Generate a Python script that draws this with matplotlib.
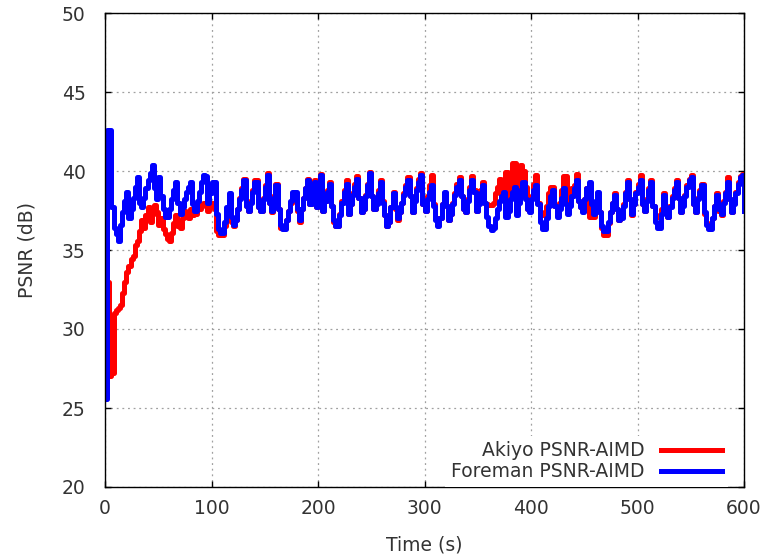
import numpy as np
import matplotlib
matplotlib.use("Agg")
import matplotlib.pyplot as plt

# PSNR traces, one sample every 2 s from 0 to 600 s
time_s = np.arange(0, 601, 2)

akiyo_psnr = [
    37.5, 33.0, 27.0, 27.2, 31.0, 31.2, 31.3, 31.5, 32.3, 33.0,
    33.6, 34.0, 34.4, 34.6, 35.3, 35.6, 36.2, 36.9, 36.4, 37.2,
    37.7, 36.8, 37.3, 37.85, 37.4, 36.6, 37.0, 36.3, 36.0, 35.7,
    35.6, 36.1, 36.7, 37.2, 36.5, 36.4, 37.0, 37.5, 37.3, 37.0,
    37.6, 37.2, 37.3, 37.9, 37.6, 37.9, 38.0, 37.8, 37.5, 37.9,
    38.0, 37.6, 36.2, 35.95, 35.95, 35.95, 36.5, 37.4, 38.3, 36.8,
    36.5, 36.9, 37.6, 38.3, 38.9, 39.5, 37.8, 37.5, 38.1, 38.8,
    39.4, 39.4, 37.7, 37.5, 38.3, 39.1, 39.9, 38.0, 37.4, 38.4,
    39.2, 37.6, 36.4, 36.4, 36.4, 36.9, 37.5, 38.0, 38.6, 38.6,
    37.5, 36.8, 37.6, 38.3, 38.9, 39.5, 37.9, 38.7, 39.4, 37.7,
    38.8, 39.8, 37.5, 38.1, 38.8, 39.3, 37.8, 36.8, 36.5, 36.5,
    37.3, 38.1, 38.8, 39.4, 37.3, 37.9, 38.6, 39.2, 39.7, 38.3,
    37.4, 37.6, 38.5, 39.2, 39.95, 38.4, 37.6, 38.0, 38.8, 39.4,
    38.1, 37.2, 36.5, 36.8, 37.7, 38.7, 37.6, 36.9, 37.4, 38.0,
    38.6, 39.1, 39.6, 38.4, 37.4, 38.2, 38.9, 39.5, 39.85, 37.9,
    37.5, 38.4, 39.1, 39.75, 37.9, 37.0, 36.6, 37.0, 37.9, 38.6,
    37.8, 36.9, 37.3, 38.0, 38.6, 39.2, 39.6, 38.4, 37.6, 37.4,
    38.2, 39.0, 39.7, 38.8, 37.5, 38.0, 38.8, 39.3, 38.0, 37.9,
    37.85, 37.85, 38.0, 38.6, 39.0, 39.5, 38.2, 38.9, 39.95, 38.0,
    38.8, 40.5, 40.5, 38.6, 39.5, 40.4, 40.0, 39.0, 37.6, 37.5,
    38.4, 39.2, 39.75, 38.0, 37.4, 37.2, 37.2, 37.8, 38.6, 39.0,
    39.0, 37.8, 37.3, 38.0, 38.8, 39.7, 39.7, 37.6, 38.2, 38.9,
    39.1, 39.8, 38.1, 37.7, 37.5, 38.2, 38.9, 37.1, 37.1, 37.1,
    37.8, 38.6, 37.4, 36.4, 35.95, 35.95, 36.7, 37.4, 38.0, 38.6,
    37.6, 36.9, 37.1, 37.9, 38.7, 39.4, 38.2, 37.2, 37.9, 38.7,
    39.2, 39.75, 37.9, 37.5, 38.2, 38.9, 39.4, 37.8, 37.2, 37.1,
    37.1, 37.6, 38.6, 37.4, 37.1, 37.8, 38.4, 38.9, 39.4, 38.3,
    37.4, 37.9, 38.5, 39.1, 39.5, 39.75, 37.9, 37.4, 38.3, 38.8,
    39.2, 37.3, 36.7, 36.4, 36.4, 37.0, 37.8, 38.6, 37.5, 37.2,
    38.1, 38.7, 39.6, 38.2, 37.4, 38.0, 38.7, 39.3, 39.7, 39.8,
    38.7,
]

foreman_psnr = [
    25.6, 42.6, 42.6, 37.7, 36.4, 36.0, 35.6, 36.6, 37.4, 38.1,
    38.7, 37.0, 37.6, 38.3, 39.0, 39.6, 38.0, 37.7, 38.3, 38.9,
    39.4, 39.9, 40.4, 38.9, 38.2, 39.6, 38.4, 37.6, 37.1, 37.1,
    37.6, 38.2, 38.8, 39.3, 38.0, 37.3, 37.7, 38.2, 38.7, 39.0,
    39.3, 37.9, 37.5, 38.1, 38.7, 39.3, 39.75, 39.7, 38.0, 38.6,
    39.3, 39.3, 37.3, 36.3, 36.05, 36.1, 36.8, 37.7, 38.6, 37.1,
    36.6, 36.9, 37.6, 38.2, 38.8, 39.4, 37.8, 37.5, 38.0, 38.7,
    39.3, 39.3, 37.7, 37.5, 38.2, 39.0, 39.75, 38.0, 37.5, 38.3,
    39.1, 37.6, 36.6, 36.3, 36.3, 36.9, 37.5, 38.1, 38.7, 38.7,
    37.6, 36.9, 37.6, 38.3, 38.9, 39.4, 37.9, 38.6, 39.3, 37.7,
    38.7, 39.75, 37.5, 38.1, 38.7, 39.2, 37.8, 36.9, 36.5, 36.5,
    37.2, 38.0, 38.7, 39.2, 37.3, 37.9, 38.5, 39.0, 39.5, 38.3,
    37.4, 37.6, 38.4, 39.1, 39.85, 38.4, 37.6, 37.9, 38.6, 39.3,
    38.0, 37.2, 36.5, 36.8, 37.7, 38.6, 37.7, 37.0, 37.4, 38.0,
    38.5, 39.0, 39.4, 38.4, 37.4, 38.1, 38.8, 39.3, 39.75, 37.9,
    37.5, 38.2, 38.7, 39.1, 37.8, 36.9, 36.5, 37.0, 37.9, 38.7,
    37.8, 36.9, 37.3, 37.9, 38.5, 39.0, 39.4, 38.4, 37.6, 37.4,
    38.1, 38.8, 39.4, 38.7, 37.5, 37.9, 38.6, 39.1, 38.0, 37.1,
    36.5, 36.25, 36.4, 37.0, 37.6, 38.1, 38.4, 38.7, 37.1, 37.5,
    38.2, 38.7, 39.0, 37.2, 38.0, 38.8, 39.3, 38.2, 37.6, 37.4,
    38.2, 38.8, 39.1, 37.9, 36.8, 36.3, 36.3, 37.0, 37.8, 38.4,
    38.8, 37.8, 37.1, 37.6, 38.3, 38.9, 37.9, 37.3, 37.8, 38.4,
    38.9, 39.4, 38.1, 37.7, 37.4, 38.2, 38.9, 39.3, 37.9, 37.3,
    38.1, 38.7, 37.4, 36.5, 36.2, 36.2, 36.8, 37.4, 38.0, 38.5,
    37.6, 36.9, 37.0, 37.8, 38.6, 39.3, 38.2, 37.3, 37.9, 38.6,
    39.0, 39.4, 37.9, 37.5, 38.1, 38.8, 39.3, 37.8, 36.8, 36.4,
    36.4, 37.3, 38.5, 37.4, 37.1, 37.7, 38.3, 38.8, 39.3, 38.3,
    37.4, 37.8, 38.4, 39.0, 39.4, 39.65, 37.9, 37.4, 38.2, 38.7,
    39.1, 37.4, 36.6, 36.3, 36.3, 37.0, 37.8, 38.5, 37.6, 37.3,
    38.0, 38.6, 39.3, 38.2, 37.4, 37.9, 38.6, 39.2, 39.6, 39.75,
    37.5,
]

x_ticks = [0, 100, 200, 300, 400, 500, 600]
y_ticks = [20, 25, 30, 35, 40, 45, 50]

text_color = "#333333"
plt.rcParams["font.family"] = "DejaVu Sans"
plt.rcParams["font.size"] = 13.5

fig = plt.figure(figsize=(7.76, 5.54), dpi=100)
ax = fig.add_axes([105 / 776, 67 / 554, 639 / 776, 474 / 554])

ax.plot(time_s, akiyo_psnr, color="#ff0000", lw=3.6, drawstyle="steps-post",
        label="Akiyo PSNR-AIMD")
ax.plot(time_s, foreman_psnr, color="#0000ff", lw=3.6, drawstyle="steps-post",
        label="Foreman PSNR-AIMD")

ax.set_xlim(0, 600)
ax.set_ylim(20, 50)
ax.set_xticks(x_ticks)
ax.set_yticks(y_ticks)
ax.grid(True, color="#a0a0a0", linestyle=(0, (1.5, 3)), linewidth=0.9)
ax.tick_params(direction="in", length=4, width=1, top=True, right=True,
               colors="black", labelcolor=text_color)
ax.tick_params(axis="y", pad=14)
ax.tick_params(axis="x", pad=9)
for spine in ax.spines.values():
    spine.set_linewidth(1)

ax.set_xlabel("Time (s)", color=text_color, labelpad=12)
ax.set_ylabel("PSNR (dB)", color=text_color, labelpad=18)

leg = ax.legend(loc="lower right", bbox_to_anchor=(0.975, 0.0), markerfirst=False,
                frameon=True, fancybox=False, framealpha=1, handlelength=3.25,
                handletextpad=0.9, labelspacing=0.1, borderaxespad=0.0,
                borderpad=0.3)
leg.get_frame().set_edgecolor("none")
for txt in leg.get_texts():
    txt.set_color(text_color)

fig.savefig("out.png", dpi=100)
